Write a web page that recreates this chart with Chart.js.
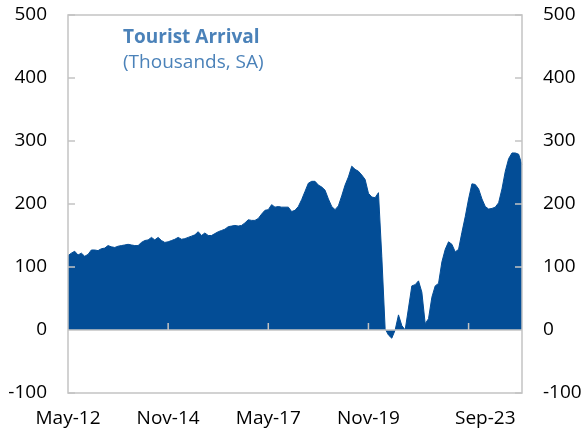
<!DOCTYPE html>
<html>
<head>
<meta charset="utf-8">
<script src="https://cdn.jsdelivr.net/npm/chart.js@4"></script>
<style>
  html, body { margin: 0; padding: 0; background: #fff; }
  #wrap { width: 584px; height: 433px; }
</style>
</head>
<body>
<div id="wrap"><canvas id="tourChart" width="584" height="433"></canvas></div>
<script>
// monthly, May-12 .. Sep-23, thousands (SA)
const arrivals = [
    118, 122, 125, 119, 122, 117, 120, 127, 127, 126,
    129, 130, 134, 132, 131, 133, 134, 135, 136, 135,
    134, 134, 139, 142, 143, 147, 143, 147, 142, 139,
    140, 142, 144, 147, 144, 145, 147, 149, 151, 156,
    150, 154, 150, 150, 153, 156, 158, 160, 164, 165,
    166, 165, 166, 170, 175, 174, 174, 177, 184, 190,
    191, 199, 195, 196, 195, 195, 195, 188, 190, 196,
    207, 220, 233, 236, 236, 230, 227, 222, 208, 196,
    191, 197, 213, 230, 243, 260, 255, 252, 246, 239,
    217, 211, 210, 218, 117, 2, -8, -13, 0, 24,
    7, 0, 35, 70, 72, 78, 60, 10, 18, 52,
    70, 74, 108, 128, 140, 136, 124, 128, 155, 180,
    208, 232, 231, 224, 208, 196, 192, 193, 195, 202,
    224, 252, 272, 281, 281, 279, 262
];

const monthNames = ['Jan', 'Feb', 'Mar', 'Apr', 'May', 'Jun', 'Jul', 'Aug', 'Sep', 'Oct', 'Nov', 'Dec'];
const months = arrivals.map((v, i) => {
    const m = 4 + i;
    return monthNames[m % 12] + '-' + String(12 + Math.floor(m / 12));
});

const xTickLabels = ['May-12', 'Nov-14', 'May-17', 'Nov-19', 'Sep-23'];
const xTickIndex = [0, 30, 60, 90, 125];
const axisMarkIndex = [30, 60, 90, 120];
const yTicks = [-100, 0, 100, 200, 300, 400, 500];

const fillColor = '#034d96';
const frameColor = '#c3c3c3';
const titleColor = '#4b82b9';
const fontFamily = '"Open Sans", "Noto Sans", sans-serif';

const framePlugin = {
    id: 'frame',
    afterDatasetsDraw(chart) {
        const ctx = chart.ctx;
        const a = chart.chartArea;
        const x = chart.scales.x;
        const y = chart.scales.y;
        ctx.save();
        ctx.strokeStyle = frameColor;
        ctx.lineWidth = 1.5;
        ctx.strokeRect(a.left, a.top, a.right - a.left, a.bottom - a.top);
        const zero = y.getPixelForValue(0);
        ctx.beginPath();
        ctx.moveTo(a.left, zero);
        ctx.lineTo(a.right, zero);
        axisMarkIndex.forEach(i => {
            const px = x.getPixelForValue(i);
            ctx.moveTo(px, zero);
            ctx.lineTo(px, zero - 7);
        });
        yTicks.forEach(v => {
            const py = y.getPixelForValue(v);
            ctx.moveTo(a.left, py);
            ctx.lineTo(a.left + 7, py);
            ctx.moveTo(a.right, py);
            ctx.lineTo(a.right - 7, py);
        });
        ctx.stroke();

        ctx.fillStyle = titleColor;
        ctx.textBaseline = 'alphabetic';
        ctx.font = 'bold 19px ' + fontFamily;
        ctx.fillText('Tourist Arrival', 123, 43);
        ctx.font = '19px ' + fontFamily;
        ctx.fillText('(Thousands, SA)', 123, 68);
        ctx.restore();
    }
};

const yAxisBase = {
    min: -100,
    max: 500,
    grid: { display: false, drawTicks: false },
    border: { display: false },
    ticks: {
        stepSize: 100,
        padding: 21,
        color: '#000',
        font: { family: fontFamily, size: 19 }
    }
};

function fixWidth(w) {
    return (scale) => {
        scale.width = w;
        scale.paddingTop = 0;
        scale.paddingBottom = 0;
    };
}

new Chart(document.getElementById('tourChart').getContext('2d'), {
    type: 'line',
    data: {
        labels: months,
        datasets: [{
            label: 'Tourist Arrival',
            data: arrivals,
            borderColor: fillColor,
            backgroundColor: fillColor,
            borderWidth: 1,
            pointRadius: 0,
            tension: 0,
            fill: 'origin',
            yAxisID: 'y'
        }]
    },
    options: {
        responsive: false,
        animation: false,
        layout: { padding: { top: 15, left: 0, right: 0, bottom: 0 } },
        plugins: {
            legend: { display: false },
            tooltip: { enabled: false }
        },
        scales: {
            x: {
                type: 'category',
                offset: false,
                grid: { display: false, drawTicks: false },
                border: { display: false },
                afterBuildTicks: (scale) => {
                    scale.ticks = xTickIndex.map(v => ({ value: v }));
                },
                afterFit: (scale) => { scale.height = 40; },
                ticks: {
                    autoSkip: false,
                    maxRotation: 0,
                    padding: 14,
                    color: '#000',
                    font: { family: fontFamily, size: 19 },
                    callback: (value) => {
                        const k = xTickIndex.indexOf(value);
                        return k >= 0 ? xTickLabels[k] : '';
                    }
                }
            },
            y: Object.assign({}, yAxisBase, {
                position: 'left',
                afterFit: fixWidth(68)
            }),
            y1: Object.assign({}, yAxisBase, {
                position: 'right',
                afterFit: fixWidth(62)
            })
        }
    },
    plugins: [framePlugin]
});
</script>
</body>
</html>
